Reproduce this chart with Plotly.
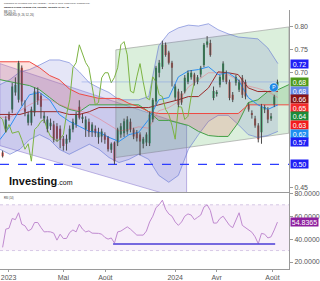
import plotly.graph_objects as go
import pandas as pd
import numpy as np

# ---------------- data ----------------
WEEK_START = "2022-12-19"
N_WEEKS = 87
dates = pd.date_range(WEEK_START, periods=N_WEEKS, freq="7D")

OPEN = [0.526,0.578,0.609,0.620,0.657,0.641,0.711,0.622,0.591,0.591,
        0.613,0.659,0.650,0.600,0.578,0.583,0.587,0.583,0.578,0.556,
        0.545,0.554,0.576,0.587,0.626,0.600,0.576,0.593,0.570,0.578,
        0.559,0.561,0.565,0.559,0.532,0.548,0.548,0.565,0.568,0.572,
        0.593,0.576,0.570,0.565,0.545,0.548,0.546,0.598,0.637,0.700,
        0.713,0.761,0.744,0.722,0.646,0.659,0.655,0.659,0.680,0.690,
        0.696,0.680,0.696,0.717,0.761,0.765,0.645,0.655,0.674,0.685,
        0.696,0.680,0.652,0.678,0.663,0.689,0.680,0.630,0.611,0.600,
        0.585,0.570,0.620,0.620,0.600,0.630,0.670]
HIGH = [0.530,0.605,0.615,0.678,0.690,0.726,0.716,0.640,0.615,0.626,
        0.668,0.668,0.655,0.615,0.605,0.600,0.595,0.590,0.585,0.562,
        0.565,0.585,0.600,0.615,0.640,0.610,0.605,0.600,0.592,0.585,
        0.580,0.578,0.570,0.562,0.548,0.550,0.580,0.590,0.600,0.605,
        0.600,0.580,0.575,0.570,0.560,0.570,0.615,0.645,0.715,0.728,
        0.770,0.766,0.748,0.726,0.675,0.665,0.660,0.695,0.705,0.706,
        0.700,0.695,0.715,0.765,0.780,0.772,0.670,0.662,0.695,0.725,
        0.705,0.685,0.658,0.695,0.685,0.695,0.685,0.635,0.618,0.606,
        0.590,0.632,0.630,0.625,0.612,0.652,0.685]
LOW = [0.515,0.570,0.595,0.612,0.650,0.635,0.628,0.605,0.585,0.585,
       0.605,0.630,0.600,0.590,0.570,0.575,0.548,0.550,0.535,0.530,
       0.530,0.548,0.570,0.580,0.598,0.590,0.560,0.560,0.560,0.560,
       0.545,0.548,0.545,0.528,0.525,0.500,0.540,0.558,0.560,0.565,
       0.570,0.555,0.550,0.520,0.535,0.540,0.540,0.592,0.630,0.690,
       0.708,0.735,0.718,0.670,0.640,0.625,0.630,0.655,0.675,0.685,
       0.672,0.675,0.690,0.712,0.755,0.735,0.640,0.648,0.668,0.680,
       0.675,0.640,0.636,0.672,0.658,0.645,0.642,0.615,0.600,0.580,
       0.548,0.545,0.612,0.590,0.595,0.625,0.665]
CLOSE = [0.518,0.598,0.598,0.670,0.674,0.722,0.637,0.615,0.609,0.620,
         0.659,0.640,0.626,0.606,0.598,0.591,0.554,0.556,0.554,0.540,
         0.556,0.578,0.593,0.609,0.602,0.604,0.598,0.570,0.587,0.568,
         0.570,0.572,0.554,0.533,0.545,0.507,0.576,0.583,0.594,0.598,
         0.576,0.561,0.557,0.550,0.556,0.565,0.609,0.641,0.711,0.722,
         0.761,0.739,0.722,0.711,0.670,0.630,0.635,0.689,0.700,0.700,
         0.678,0.690,0.711,0.761,0.768,0.739,0.660,0.656,0.691,0.720,
         0.680,0.645,0.641,0.691,0.680,0.652,0.648,0.620,0.609,0.585,
         0.555,0.626,0.625,0.598,0.605,0.648,0.680]
RSI = [32.8,48.7,49.5,58.0,57.0,63.0,53.0,51.6,47.2,48.7,
       54.5,54.5,50.1,46.3,46.5,46.3,45.2,39.1,44.3,40.5,
       40.6,45.8,48.0,46.3,53.0,48.7,46.3,47.2,45.2,45.2,
       45.0,44.3,41.5,40.0,41.0,36.5,46.3,47.0,49.0,50.7,
       48.7,45.8,43.5,43.5,43.5,47.0,55.0,60.0,67.5,70.0,
       74.0,66.0,62.0,60.0,55.0,52.0,55.0,60.0,62.0,61.0,
       57.0,59.0,61.0,68.0,70.0,65.0,54.0,54.0,58.0,60.0,
       56.0,52.0,50.0,56.0,63.0,52.0,50.0,48.0,46.0,42.0,
       36.0,45.0,44.3,41.0,42.0,48.0,54.8365]

# indicator lines read on a common date grid
GRID_DATES = ['2022-12-13','2023-01-04','2023-01-26','2023-02-16','2023-03-10',
              '2023-04-01','2023-04-22','2023-05-14','2023-06-05','2023-06-27',
              '2023-07-18','2023-08-09','2023-08-31','2023-09-22','2023-10-13',
              '2023-11-04','2023-11-26','2023-12-18','2024-01-08','2024-01-30',
              '2024-02-21','2024-03-14','2024-04-04','2024-04-26','2024-05-18',
              '2024-06-09','2024-06-30','2024-07-22','2024-08-13','2024-09-06']
BB_UPPER = [0.674,0.685,0.702,0.707,0.717,0.728,0.728,0.722,0.702,0.678,
            0.667,0.657,0.641,0.641,0.641,0.648,0.759,0.787,0.798,0.804,
            0.802,0.807,0.794,0.785,0.778,0.776,0.774,0.754,0.720]
BB_LOWER = [0.533,0.522,0.533,0.554,0.565,0.554,0.533,0.522,0.533,0.544,
            0.533,0.515,0.504,0.511,0.522,0.511,0.476,0.461,0.476,0.533,
            0.565,0.594,0.607,0.607,0.587,0.565,0.559,0.563,0.572]
BB_BASIS = [0.603,0.603,0.617,0.630,0.641,0.641,0.631,0.622,0.617,0.611,
            0.600,0.586,0.573,0.576,0.582,0.579,0.617,0.624,0.637,0.669,
            0.684,0.700,0.700,0.696,0.683,0.671,0.666,0.659,0.646]
TENKAN = [0.554,0.583,0.620,0.652,0.657,0.641,0.609,0.594,0.583,0.572,
          0.570,0.559,0.550,0.565,0.570,0.598,0.641,0.646,0.691,0.704,
          0.707,0.713,0.696,0.700,0.685,0.646,0.630,0.620,0.630]
KIJUN = [0.609,0.609,0.609,0.615,0.615,0.615,0.615,0.609,0.609,0.615,
         0.624,0.624,0.624,0.624,0.624,0.624,0.630,0.635,0.641,0.648,
         0.648,0.667,0.702,0.700,0.696,0.667,0.659,0.659,0.659]
SPAN_A = [0.685,0.680,0.676,0.672,0.663,0.646,0.630,0.620,0.615,0.630,
          0.630,0.630,0.630,0.630,0.630,0.615,0.596,0.596,0.591,0.585,
          0.572,0.563,0.561,0.561,0.591,0.635,0.641,0.659,0.663,0.674]
SPAN_B = [0.724,0.724,0.724,0.724,0.711,0.694,0.685,0.665,0.654,0.648,
          0.644,0.644,0.644,0.633,0.626,0.615,0.611,0.611,0.611,0.611,
          0.611,0.611,0.611,0.611,0.611,0.630,0.630,0.630,0.630,0.630]

# regression channels (start/end dates and prices)
PURPLE_DATES = ['2022-12-13', '2024-01-26']
PURPLE_TOP = [0.720, 0.585]
PURPLE_BOT = [0.541, 0.422]
GREEN_DATES = ['2023-08-24', '2024-09-06']
GREEN_TOP = [0.750, 0.800]
GREEN_BOT = [0.515, 0.568]

SUPPORT = 0.50
LAST_LINE = 0.68
LAST_LINE_START = '2023-06-10'
RSI_LINE_LEVEL = 35.7
RSI_LINE_DATES = ['2023-08-18', '2024-08-07']
P_MARK = ('2024-08-04', 0.668)

PRICE_LABELS = ['0.72', '0.68', '0.68', '0.66', '0.65', '0.64', '0.63', '0.62', '0.57', '0.50']
PRICE_LABEL_COLORS = ['#1f1ff5', '#4f9a1c', '#6688e6', '#8b1515', '#f52a2a',
                      '#1c8a38', '#f21c1c', '#1e8ff0', '#1f1ff5', '#1f1ff5']
RSI_LAST = 54.8365

X_TICKS = ['2023-01-01', '2023-05-01', '2023-08-01', '2024-01-01', '2024-04-01', '2024-08-01']
X_TICKTEXT = ['2023', 'Mai', 'Août', '2024', 'Avr', 'Août']
X_RANGE = ['2022-12-13 07:00', '2024-09-06 07:00']

# ---------------- figure ----------------
fig = go.Figure()
gd = pd.to_datetime(GRID_DATES)
gd29 = gd[:29]

# purple regression channel
fig.add_trace(go.Scatter(
    x=[PURPLE_DATES[0], PURPLE_DATES[1], PURPLE_DATES[1], PURPLE_DATES[0], PURPLE_DATES[0]],
    y=[PURPLE_TOP[0], PURPLE_TOP[1], PURPLE_BOT[1], PURPLE_BOT[0], PURPLE_TOP[0]],
    fill='toself', fillcolor='rgba(103,88,200,0.20)', mode='lines',
    line=dict(color='rgba(120,100,200,0.45)', width=1), hoverinfo='skip'))
# green regression channel
fig.add_trace(go.Scatter(
    x=[GREEN_DATES[0], GREEN_DATES[1], GREEN_DATES[1], GREEN_DATES[0], GREEN_DATES[0]],
    y=[GREEN_TOP[0], GREEN_TOP[1], GREEN_BOT[1], GREEN_BOT[0], GREEN_TOP[0]],
    fill='toself', fillcolor='rgba(76,175,80,0.20)', mode='lines',
    line=dict(color='rgba(150,150,150,0.6)', width=1), hoverinfo='skip'))

# Bollinger
fig.add_trace(go.Scatter(x=gd29, y=BB_UPPER, mode='lines',
                         line=dict(color='rgba(90,110,210,0.55)', width=1)))
fig.add_trace(go.Scatter(x=gd29, y=BB_LOWER, mode='lines', fill='tonexty',
                         fillcolor='rgba(80,90,200,0.15)',
                         line=dict(color='rgba(90,110,210,0.55)', width=1)))

# Ichimoku cloud fills (red where span B above span A, green otherwise)
def with_crossings(xs, a, b):
    t = xs.astype('int64').to_numpy().astype(float)
    X, A, B = [t[0]], [a[0]], [b[0]]
    for k in range(len(t) - 1):
        d0, d1 = a[k] - b[k], a[k + 1] - b[k + 1]
        if d0 * d1 < 0:
            f = d0 / (d0 - d1)
            v = a[k] + f * (a[k + 1] - a[k])
            X.append(t[k] + f * (t[k + 1] - t[k])); A.append(v); B.append(v)
        X.append(t[k + 1]); A.append(a[k + 1]); B.append(b[k + 1])
    return pd.to_datetime(np.array(X).astype('int64')), np.array(A), np.array(B)

cx, ca, cb = with_crossings(gd, SPAN_A, SPAN_B)
ctop = np.maximum(ca, cb)
fig.add_trace(go.Scatter(x=cx, y=ca, mode='lines', line=dict(width=0), hoverinfo='skip'))
fig.add_trace(go.Scatter(x=cx, y=ctop, mode='lines', fill='tonexty',
                         fillcolor='rgba(244,67,54,0.16)', line=dict(width=0), hoverinfo='skip'))
fig.add_trace(go.Scatter(x=cx, y=cb, mode='lines', line=dict(width=0), hoverinfo='skip'))
fig.add_trace(go.Scatter(x=cx, y=ctop, mode='lines', fill='tonexty',
                         fillcolor='rgba(67,160,71,0.20)', line=dict(width=0), hoverinfo='skip'))

fig.add_trace(go.Scatter(x=gd, y=SPAN_A, mode='lines', line=dict(color='#43a047', width=1)))
fig.add_trace(go.Scatter(x=gd, y=SPAN_B, mode='lines', line=dict(color='#ef4a43', width=1)))
fig.add_trace(go.Scatter(x=gd29, y=BB_BASIS, mode='lines', line=dict(color='rgba(235,110,120,0.6)', width=0.8)))
fig.add_trace(go.Scatter(x=gd29, y=KIJUN, mode='lines', line=dict(color='#9a2a2a', width=1)))
fig.add_trace(go.Scatter(x=gd29, y=TENKAN, mode='lines', line=dict(color='#2e8ff0', width=1)))

# lagging span: closes plotted 26 weeks back
fig.add_trace(go.Scatter(x=dates - pd.Timedelta(weeks=26), y=CLOSE, mode='lines',
                         line=dict(color='#7cb342', width=1)))

# horizontal lines
fig.add_trace(go.Scatter(x=[LAST_LINE_START, X_RANGE[1]], y=[LAST_LINE, LAST_LINE], mode='lines',
                         line=dict(color='rgba(120,150,230,0.45)', width=1)))
fig.add_trace(go.Scatter(x=X_RANGE, y=[SUPPORT, SUPPORT], mode='lines',
                         line=dict(color='#2d3dff', width=1.2, dash='dash')))

# candles: wicks + bodies
wx, wy = [], []
for d, h, l in zip(dates, HIGH, LOW):
    wx += [d, d, None]; wy += [l, h, None]
fig.add_trace(go.Scatter(x=wx, y=wy, mode='lines', line=dict(color='#4a4a4a', width=1), hoverinfo='skip'))
base = [min(o, c) for o, c in zip(OPEN, CLOSE)]
height = [max(abs(c - o), 0.002) for o, c in zip(OPEN, CLOSE)]
colors = ['#1fa64a' if c >= o else '#e8473e' for o, c in zip(OPEN, CLOSE)]
fig.add_trace(go.Bar(x=dates, y=height, base=base, marker=dict(color=colors, line=dict(width=0)),
                     width=4.6 * 86400000))

# P marker
fig.add_trace(go.Scatter(x=[P_MARK[0]], y=[P_MARK[1]], mode='markers+text', text=['P'],
                         textposition='middle center', textfont=dict(color='white', size=6),
                         marker=dict(size=9, color='#1e88e5', line=dict(color='white', width=0.5))))

# RSI panel
fig.add_trace(go.Scatter(x=X_RANGE, y=[70, 70], mode='lines', xaxis='x2', yaxis='y2',
                         line=dict(color='rgba(150,120,190,0.45)', width=0.8, dash='dot')))
fig.add_trace(go.Scatter(x=X_RANGE, y=[30, 30], mode='lines', xaxis='x2', yaxis='y2', fill='tonexty',
                         fillcolor='rgba(156,39,176,0.08)',
                         line=dict(color='rgba(150,120,190,0.45)', width=0.8, dash='dot')))
fig.add_trace(go.Scatter(x=dates, y=RSI, mode='lines', xaxis='x2', yaxis='y2',
                         line=dict(color='#c08ad0', width=1)))
fig.add_trace(go.Scatter(x=RSI_LINE_DATES, y=[RSI_LINE_LEVEL] * 2, mode='lines', xaxis='x2', yaxis='y2',
                         line=dict(color='#4a3bd6', width=1.5)))

ann = []
# stacked price labels on the right axis
gap = 0.0188
pos = None
for txt, col in zip(PRICE_LABELS, PRICE_LABEL_COLORS):
    v = float(txt)
    pos = v if pos is None else min(v, pos - gap)
    ann.append(dict(x=1, xref='paper', xanchor='left', xshift=1, y=pos, yref='y', yanchor='middle',
                    text=txt, showarrow=False, bgcolor=col, width=17, height=8, borderpad=0,
                    font=dict(color='white', size=7, family='Liberation Sans, Arial')))
ann.append(dict(x=1, xref='paper', xanchor='left', xshift=1, y=RSI_LAST, yref='y2', yanchor='middle',
                text=f'{RSI_LAST:.4f}', showarrow=False, bgcolor='#8e1f9e', width=27, height=8, borderpad=0,
                font=dict(color='white', size=7, family='Liberation Sans, Arial')))

def txt_ann(x_px, y_px, text, size, bold=False, color='#333'):
    return dict(x=x_px / 291, xref='paper', xanchor='left', y=(270 - y_px) / 260, yref='paper',
                yanchor='middle', text=f'<b>{text}</b>' if bold else text, showarrow=False,
                font=dict(size=size, color=color, family='Liberation Sans, Arial'))

ann.append(txt_ann(2, 3, 'Published on Investing.com, 20/Aug/2024 - 17:37:41 GMT, Powered by TradingView.', 2.3))
ann.append(txt_ann(2, 7, 'Nanoco Group Holding Ltd, Toronto, Toronto (CAD), W', 2.5, bold=True, color='#111'))
ann.append(txt_ann(2, 12.5, 'BB (20, 2)', 2.6))
ann.append(txt_ann(2, 15.5, 'ICHIMOKU (9, 26, 52, 26)', 2.6))
ann.append(txt_ann(2, 198.5, 'RSI (14)', 2.6))
ann.append(dict(x=7 / 291, xref='paper', xanchor='left', y=(270 - 182) / 260, yref='paper', yanchor='middle',
                text="<b>Investing</b><span style='font-size:7px'>.com</span>", showarrow=False,
                font=dict(size=11, color='#111', family='Liberation Sans, Arial')))

axis_font = dict(size=7, color='#555', family='Liberation Sans, Arial')
fig.update_layout(
    width=320, height=281, margin=dict(l=0, r=29, t=10, b=11),
    paper_bgcolor='white', plot_bgcolor='white', showlegend=False,
    barmode='overlay', annotations=ann,
    xaxis=dict(domain=[0, 1], anchor='y', range=X_RANGE, type='date', showticklabels=False,
               showgrid=False, zeroline=False, showline=True, linecolor='#9a9a9a', linewidth=1, ticks=''),
    yaxis=dict(domain=[0.2962, 1], anchor='x', side='right', range=[0.4391, 0.837],
               tickvals=[0.45, 0.70, 0.75, 0.80], ticktext=['0.45', '0.70', '0.75', '0.80'],
               showgrid=False, zeroline=False, showline=True, linecolor='#9a9a9a', linewidth=1,
               ticks='outside', ticklen=3, tickcolor='#9a9a9a', tickfont=axis_font),
    xaxis2=dict(domain=[0, 1], anchor='y2', range=X_RANGE, type='date', matches='x',
                tickvals=X_TICKS, ticktext=X_TICKTEXT, showgrid=False, zeroline=False,
                showline=True, linecolor='#9a9a9a', linewidth=1, ticks='outside', ticklen=2,
                tickcolor='#9a9a9a', tickfont=axis_font),
    yaxis2=dict(domain=[0, 0.2942], anchor='x2', side='right', range=[13.9, 80.43],
                tickvals=[20, 40, 60, 80], tickformat='.4f', showgrid=False, zeroline=False,
                showline=True, linecolor='#9a9a9a', linewidth=1, ticks='outside', ticklen=3,
                tickcolor='#9a9a9a', tickfont=axis_font),
)

fig.write_html("out.html")
